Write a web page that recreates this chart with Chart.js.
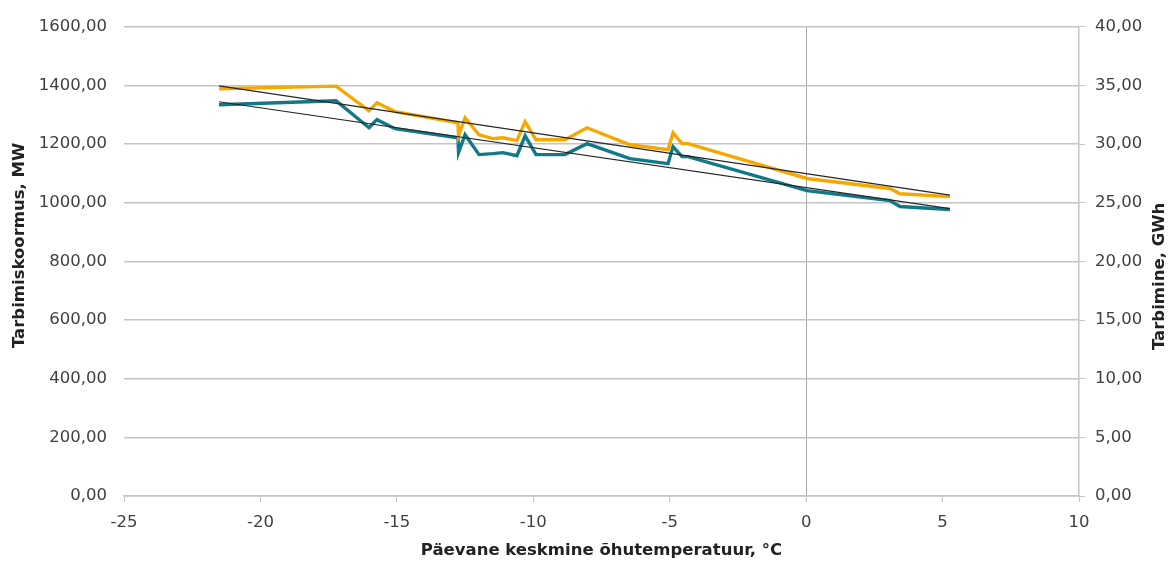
<!DOCTYPE html>
<html>
<head>
<meta charset="utf-8">
<script src="https://cdn.jsdelivr.net/npm/chart.js@4/dist/chart.umd.min.js"></script>
<style>
  html, body { margin: 0; padding: 0; background: #fff; }
  #wrap { width: 1173px; height: 561px; }
</style>
</head>
<body>
<div id="wrap"><canvas id="chart"></canvas></div>
<script>
// day average temperature, °C
const temps = [-21.52, -17.23, -16.02, -15.73, -15.07, -12.76, -12.74, -12.50, -11.99, -11.48, -11.11, -10.60, -10.30, -9.90, -8.84, -8.03, -6.46, -5.06, -4.88, -4.55, -4.33, 0.03, 3.07, 3.44, 5.27]
// peak load, MW (left axis)
const loadMW = [1389, 1398, 1314, 1341, 1311, 1273, 1229, 1290, 1232, 1219, 1222, 1212, 1277, 1215, 1215, 1256, 1198, 1181, 1239, 1202, 1202, 1083, 1049, 1031, 1021]
// consumption, GWh (right axis)
const consGWh = [33.36, 33.70, 31.40, 32.09, 31.32, 30.55, 29.28, 30.81, 29.11, 29.19, 29.28, 29.02, 30.72, 29.11, 29.11, 30.04, 28.77, 28.34, 29.79, 28.94, 28.94, 26.04, 25.19, 24.68, 24.43]
// trend line end points
const trendX = [-21.52, 5.27]
const loadTrend = [1399, 1026]
const consTrend = [33.62, 24.51]

const leftTitle = 'Tarbimiskoormus, MW'
const rightTitle = 'Tarbimine, GWh'
const bottomTitle = 'Päevane keskmine õhutemperatuur, °C'

const toPoints = (xs, ys) => xs.map((x, i) => ({ x: x, y: ys[i] }))
const comma = v => v.toFixed(2).replace('.', ',')

const FONT = 'DejaVu Sans'
const GRID = '#c4c4c4'
const TICK_FONT = { family: FONT, size: 16.5 }
const TITLE_FONT = { family: FONT, size: 16.5, weight: 'bold' }

// both value-axis titles read bottom-to-top in the original, chart.js turns the right one the other way
const sideTitles = {
  id: 'sideTitles',
  afterDraw(chart) {
    const c = chart.ctx
    const area = chart.chartArea
    c.save()
    c.font = 'bold 16.5px "' + FONT + '"'
    c.fillStyle = '#222'
    c.textAlign = 'center'
    c.textBaseline = 'middle'
    c.translate(20, area.top + (area.bottom - area.top) / 2 - 16)
    c.rotate(-Math.PI / 2)
    c.fillText(leftTitle, 0, 0)
    c.restore()
    c.save()
    c.font = 'bold 16.5px "' + FONT + '"'
    c.fillStyle = '#222'
    c.textAlign = 'center'
    c.textBaseline = 'middle'
    c.translate(1160, area.top + (area.bottom - area.top) / 2 + 15)
    c.rotate(-Math.PI / 2)
    c.fillText(rightTitle, 0, 0)
    c.restore()
  }
}

function createChart() {
  const ctx = document.getElementById('chart').getContext('2d')
  new Chart(ctx, {
    type: 'line',
    data: {
      datasets: [
        {
          data: toPoints(trendX, loadTrend),
          yAxisID: 'y',
          borderColor: '#262626',
          borderWidth: 1.2,
          order: 0,
        },
        {
          data: toPoints(trendX, consTrend),
          yAxisID: 'y2',
          borderColor: '#262626',
          borderWidth: 1.2,
          order: 0,
        },
        {
          data: toPoints(temps, loadMW),
          yAxisID: 'y',
          borderColor: '#f6a800',
          borderWidth: 3.4,
          order: 1,
        },
        {
          data: toPoints(temps, consGWh),
          yAxisID: 'y2',
          borderColor: '#117888',
          borderWidth: 3.4,
          order: 1,
        },
      ]
    },
    options: {
      responsive: true,
      maintainAspectRatio: false,
      animation: false,
      elements: { point: { radius: 0 }, line: { tension: 0 } },
      layout: { padding: { top: 26, left: 0, right: 0, bottom: 0 } },
      plugins: { legend: { display: false }, tooltip: { enabled: false } },
      scales: {
        x: {
          type: 'linear',
          min: -25,
          max: 10,
          ticks: { stepSize: 5, color: '#404040', font: TICK_FONT, padding: 11 },
          grid: {
            color: c => c.tick && c.tick.value === 0 ? '#a8a8a8' : 'transparent',
            tickColor: GRID,
            tickLength: 6,
            lineWidth: 1,
          },
          border: { display: true, color: GRID, width: 1.5 },
          title: {
            display: true,
            text: bottomTitle,
            color: '#222',
            font: TITLE_FONT,
            padding: { top: 0, bottom: 0 },
          },
          afterFit: s => { s.height = 65 },
        },
        y: {
          position: 'left',
          min: 0,
          max: 1600,
          ticks: { stepSize: 200, color: '#404040', font: TICK_FONT, padding: 17, callback: v => comma(v) },
          grid: { color: GRID, lineWidth: 1.5, drawTicks: false },
          border: { display: false },
          afterFit: s => { s.width = 124 },
        },
        y2: {
          position: 'right',
          min: 0,
          max: 40,
          ticks: { stepSize: 5, color: '#404040', font: TICK_FONT, padding: 10, callback: v => comma(v) },
          grid: { drawOnChartArea: false, color: GRID, tickLength: 6 },
          border: { display: true, color: GRID, width: 1.5 },
          afterFit: s => { s.width = 94 },
        }
      }
    },
    plugins: [sideTitles]
  })
}

createChart()
</script>
</body>
</html>
